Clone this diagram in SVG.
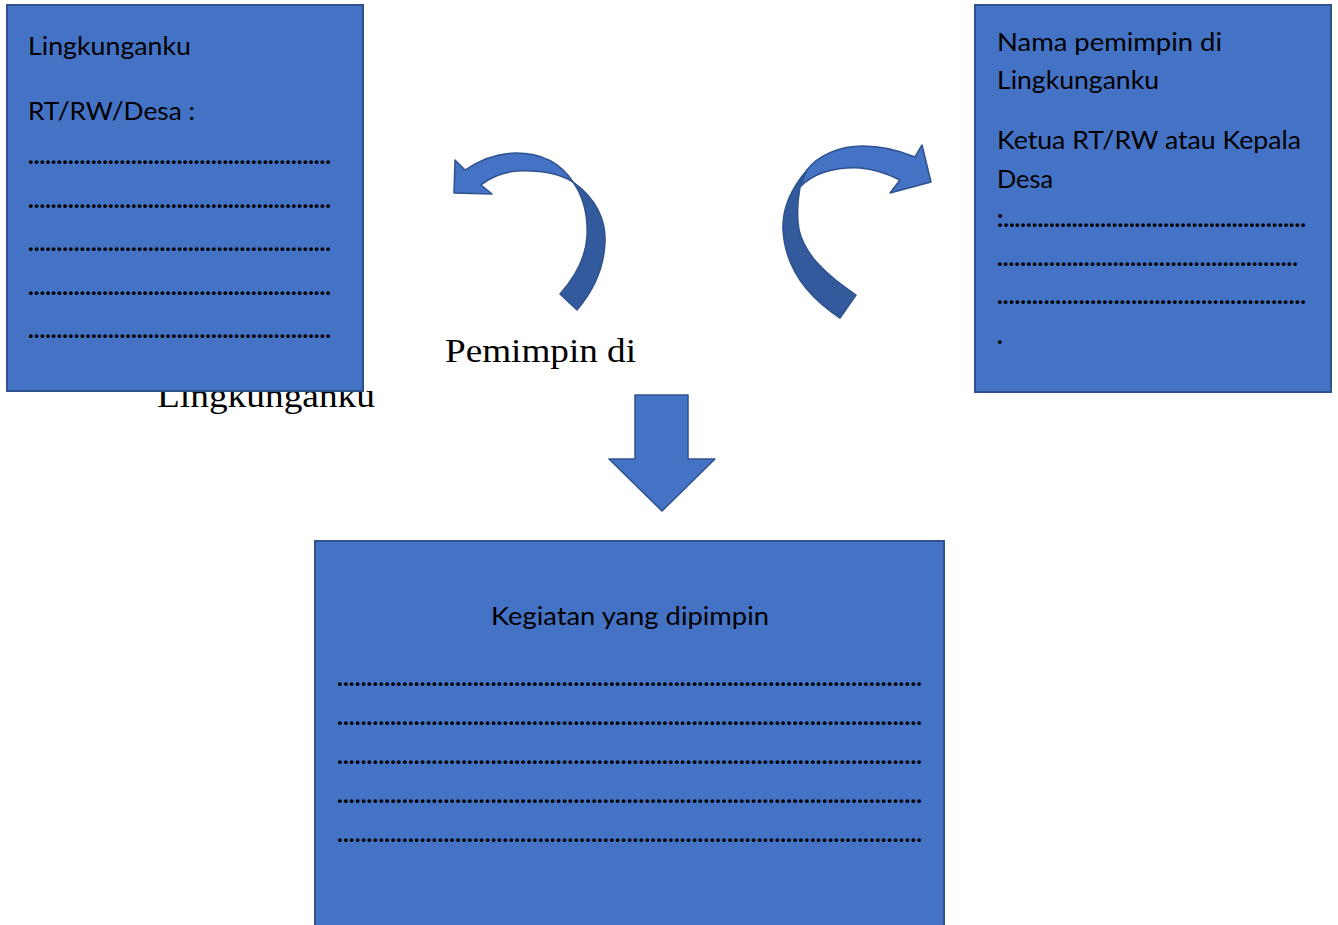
<svg xmlns="http://www.w3.org/2000/svg" width="1338" height="925" viewBox="0 0 1338 925">
<style>
.box{fill:#4472C4;stroke:#2F528F;stroke-width:2}
.t{font-family:Lato,"Open Sans","Liberation Sans",sans-serif;font-size:25px;fill:#000}
.d{font-family:Lato,"Open Sans","Liberation Sans",sans-serif;font-size:24px;fill:#000;font-weight:bold}
.s{font-family:"Liberation Serif","Times New Roman",serif;font-size:33px;fill:#000}
.light{fill:#4472C4;stroke:#2F528F;stroke-width:1.5;stroke-linejoin:round}
.dark{fill:#335A9C;stroke:#2F528F;stroke-width:1.5;stroke-linejoin:round}
</style>
<rect width="1338" height="925" fill="#fff"/>
<text class="s" x="157" y="407" textLength="218" lengthAdjust="spacingAndGlyphs">Lingkunganku</text>
<g id="node-left">
<rect class="box" x="7" y="5" width="356" height="386"/>
<text class="t" x="28" y="55" textLength="163" lengthAdjust="spacingAndGlyphs">Lingkunganku</text>
<text class="t" x="28" y="120" textLength="167" lengthAdjust="spacingAndGlyphs">RT/RW/Desa :</text>
<text class="d" x="28" y="164" textLength="303" lengthAdjust="spacing">.....................................................</text>
<text class="d" x="28" y="208" textLength="303" lengthAdjust="spacing">.....................................................</text>
<text class="d" x="28" y="251" textLength="303" lengthAdjust="spacing">.....................................................</text>
<text class="d" x="28" y="295" textLength="303" lengthAdjust="spacing">.....................................................</text>
<text class="d" x="28" y="338" textLength="303" lengthAdjust="spacing">.....................................................</text>
</g>
<g id="node-right">
<rect class="box" x="975" y="5" width="356" height="387"/>
<text class="t" x="997" y="51" textLength="225" lengthAdjust="spacingAndGlyphs">Nama pemimpin di</text>
<text class="t" x="997" y="89" textLength="162" lengthAdjust="spacingAndGlyphs">Lingkunganku</text>
<text class="t" x="997" y="149" textLength="304" lengthAdjust="spacingAndGlyphs">Ketua RT/RW atau Kepala</text>
<text class="t" x="997" y="188" textLength="56" lengthAdjust="spacingAndGlyphs">Desa</text>
<text class="d" x="997" y="227" textLength="309" lengthAdjust="spacing">:.....................................................</text>
<text class="d" x="997" y="266" textLength="301" lengthAdjust="spacing">....................................................</text>
<text class="d" x="997" y="304" textLength="309" lengthAdjust="spacing">.....................................................</text>
<text class="d" x="997" y="344">.</text>
</g>
<g id="node-bottom">
<rect class="box" x="315" y="541" width="629" height="390"/>
<text class="t" x="491" y="625" textLength="278" lengthAdjust="spacingAndGlyphs">Kegiatan yang dipimpin</text>
<text class="d" x="337" y="686" textLength="585" lengthAdjust="spacing">...................................................................................................</text>
<text class="d" x="337" y="725" textLength="585" lengthAdjust="spacing">...................................................................................................</text>
<text class="d" x="337" y="764" textLength="585" lengthAdjust="spacing">...................................................................................................</text>
<text class="d" x="337" y="803" textLength="585" lengthAdjust="spacing">...................................................................................................</text>
<text class="d" x="337" y="842" textLength="585" lengthAdjust="spacing">...................................................................................................</text>
</g>
<g id="node-title">
<text class="s" x="445" y="362" textLength="191" lengthAdjust="spacingAndGlyphs">Pemimpin di</text>
</g>
<g id="connectors">
<path class="dark" d="M573,182 C596,198 606,220 605,242 C604,268 594,290 577,310 L560,294 C576,276 586,256 587,236 C588,214 583,196 573,182 Z"/>
<path class="light" d="M455,160 L454,193 L492,194 L481,185 C492,176 505,172 517,171 C540,170 560,174 573,182 C560,162 540,153 516,153 C498,153 480,160 465,170 Z"/>
<path class="dark" d="M807,170 C790,190 782,210 783,230 C785,265 805,295 840,318 L856,295 C826,275 805,255 799,230 C796,212 798,198 800,187 Z"/>
<path class="light" d="M800,187 C815,172 838,167 860,168 C875,169 888,174 900,180 L890,193 L931,182 L922,145 L915,157 C898,150 880,146 863,146 C840,146 818,155 807,170 Z"/>
<path class="light" d="M635,395 L688,395 L688,459 L715,459 L662,511 L609,459 L635,459 Z"/>
</g>
</svg>
